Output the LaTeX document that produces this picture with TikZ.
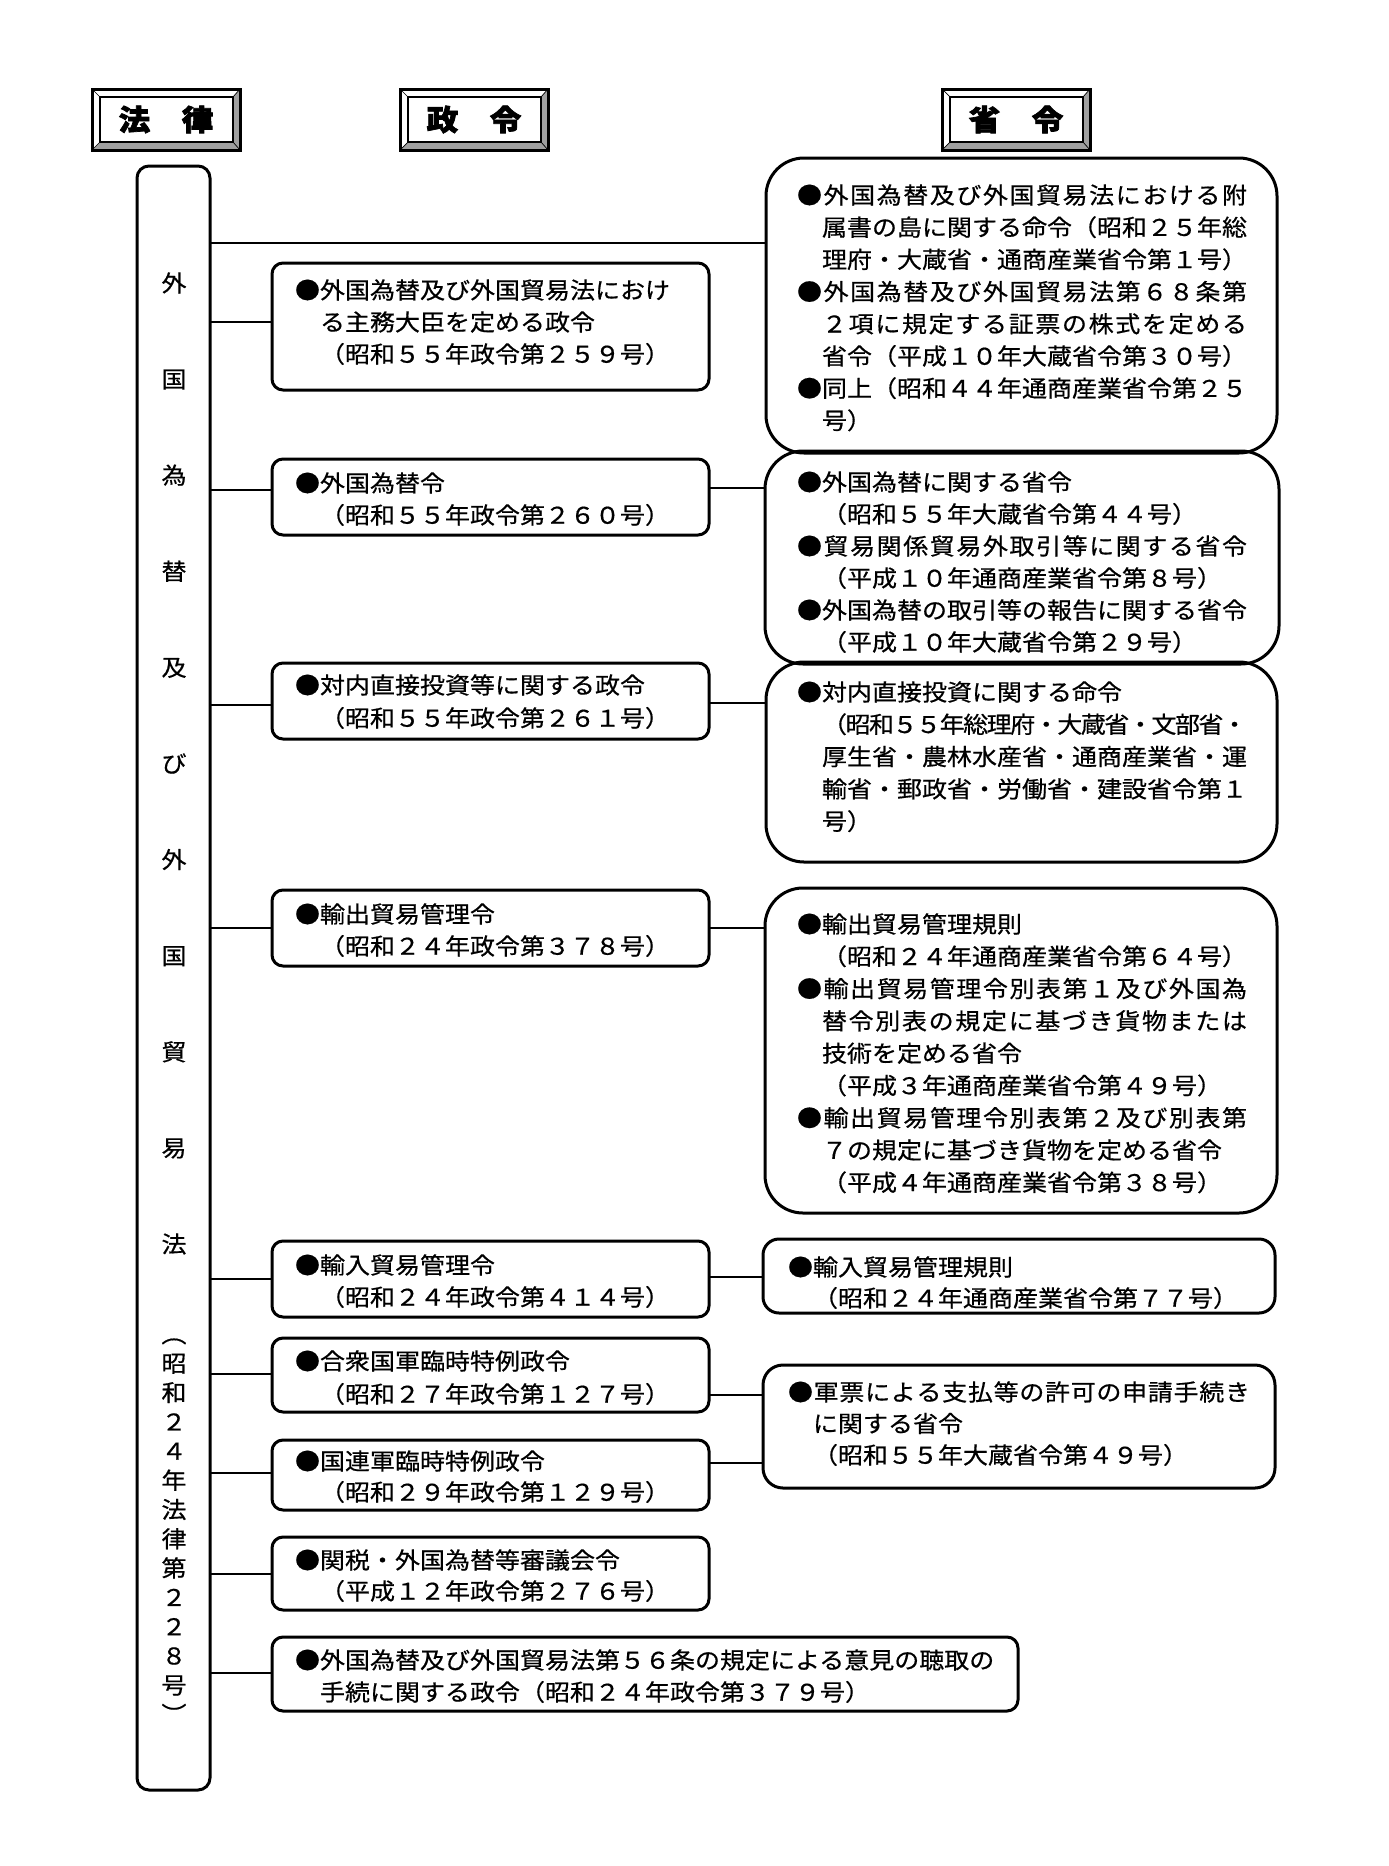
\documentclass[tikz,border=0pt]{standalone}
\usepackage{fontspec}
\usepackage{graphicx}
\setmainfont{Noto Sans CJK JP}[FakeStretch=1.087]
\newfontfamily\jpf{Noto Sans CJK JP}[FakeStretch=1.087, FakeBold=0.6]
\newfontfamily\hdrf{Noto Sans CJK JP}[FakeStretch=1.087, FakeBold=2.5]
\usetikzlibrary{calc}
\newcommand\sprdstop{}
\newcommand\sprd[2]{\leavevmode\hbox to #1{\sprdloop#2\sprdstop}}
\def\sprdloop#1{\ifx#1\sprdstop\unskip\else#1\hskip 0pt plus 1fil minus 1fil\expandafter\sprdloop\fi}
\definecolor{hdrgray}{HTML}{A0A0A0}
\newcommand\hdrbox[4]{%
  \node[hdr, anchor=north west] (#1) at (#2,#3) {#4};
  \fill[hdrgray] (#1.south west) -- (#1.south east) -- (#1.north east) -- ([shift={(-7,8)}]#1.north east) -- ([shift={(-7,-8)}]#1.south east) -- ([shift={(8,-8)}]#1.south west) -- cycle;
  \draw[line width=0.7pt] (#1.north west) -- ++(8,8) (#1.north east) -- ++(-7,8) (#1.south west) -- ++(8,-8) (#1.south east) -- ++(-7,-8);
  \draw[line width=2pt] ([shift={(8,8)}]#1.north west) rectangle ([shift={(-7,-8)}]#1.south east);
  \draw[line width=3pt] (#1.north west) rectangle (#1.south east);
}
\begin{document}
\begin{tikzpicture}[x=1pt,y=-1pt,
  hdr/.style={minimum width=148pt, minimum height=61pt, inner sep=0pt, outer sep=0pt, fill=white, font=\hdrf\fontsize{29}{29}\selectfont\bfseries},
  lawbox/.style={draw, line width=3pt, rounded corners=12pt, inner sep=0pt, outer sep=0pt},
  seibox/.style={draw, line width=3pt, rounded corners=11pt, inner sep=0pt, outer sep=0pt},
  shobox/.style={draw, line width=3pt, rounded corners=38pt, inner sep=0pt, outer sep=0pt},
  shoboxs/.style={draw, line width=3pt, rounded corners=#1, inner sep=0pt, outer sep=0pt},
  txt/.style={anchor=base west, inner sep=0pt, outer sep=0pt, align=left, text width=600pt, font=\jpf\fontsize{23}{#1}\selectfont},
  txt/.default=32.2,
  conn/.style={line width=2.6pt},
]
\useasboundingbox (0,0) rectangle (1389,1866);

% headers
\hdrbox{h1}{92}{89}{法　律}
\hdrbox{h2}{400}{89}{政　令}
\hdrbox{h3}{942}{89}{省　令}

% law box
\node[lawbox, minimum width=73pt, minimum height=1624pt, anchor=north west] (law) at (137,166) {};
\node[inner sep=0pt, anchor=base, align=center, text width=40pt, font=\jpf\fontsize{23}{96.1}\selectfont] (lawt1) at (174,291.7)
  {外\\国\\為\\替\\及\\び\\外\\国\\貿\\易\\法};
\node[inner sep=0pt, anchor=base, align=center, text width=40pt, font=\jpf\fontsize{23}{29.25}\selectfont] (lawt2) at (174,1342.7)
  {︵\\昭\\和\\２\\４\\年\\法\\律\\第\\２\\２\\８\\号\\︶};

% seirei boxes
\node[seibox, minimum width=437pt, minimum height=127pt, anchor=north west] (s1) at (272,263) {};
\node[seibox, minimum width=437pt, minimum height=76pt, anchor=north west] (s2) at (272,459) {};
\node[seibox, minimum width=437pt, minimum height=76pt, anchor=north west] (s3) at (272,663) {};
\node[seibox, minimum width=437pt, minimum height=76pt, anchor=north west] (s4) at (272,890) {};
\node[seibox, minimum width=437pt, minimum height=76pt, anchor=north west] (s5) at (272,1241) {};
\node[seibox, minimum width=437pt, minimum height=74pt, anchor=north west] (s6) at (272,1338) {};
\node[seibox, minimum width=437pt, minimum height=70pt, anchor=north west] (s7) at (272,1440) {};
\node[seibox, minimum width=437pt, minimum height=73pt, anchor=north west] (s8) at (272,1537) {};
\node[seibox, minimum width=746pt, minimum height=74pt, anchor=north west] (s9) at (272,1637) {};

% shorei boxes
\node[shobox, minimum width=511pt, minimum height=295pt, anchor=north west] (A) at (766,158) {};
\node[shobox, minimum width=514pt, minimum height=213pt, anchor=north west] (B) at (765,451) {};
\node[shobox, minimum width=511pt, minimum height=200pt, anchor=north west] (C) at (766,662) {};
\node[shobox, minimum width=512pt, minimum height=325pt, anchor=north west] (D) at (765,888) {};
\node[shoboxs=16pt, minimum width=512pt, minimum height=74pt, anchor=north west] (E) at (763,1239) {};
\node[shoboxs=20pt, minimum width=512pt, minimum height=123pt, anchor=north west] (F) at (763,1365) {};

% connectors
\draw[conn] (law.east |- 0,243) -- (A.west |- 0,243);
\draw[conn] (law.east |- 0,322) -- (s1.west |- 0,322);
\draw[conn] (law.east |- 0,490) -- (s2.west |- 0,490);
\draw[conn] (law.east |- 0,705) -- (s3.west |- 0,705);
\draw[conn] (law.east |- 0,928) -- (s4.west |- 0,928);
\draw[conn] (law.east |- 0,1279) -- (s5.west |- 0,1279);
\draw[conn] (law.east |- 0,1374) -- (s6.west |- 0,1374);
\draw[conn] (law.east |- 0,1473) -- (s7.west |- 0,1473);
\draw[conn] (law.east |- 0,1574) -- (s8.west |- 0,1574);
\draw[conn] (law.east |- 0,1673) -- (s9.west |- 0,1673);
\draw[conn] (s2.east |- 0,488) -- (B.west |- 0,488);
\draw[conn] (s3.east |- 0,703) -- (C.west |- 0,703);
\draw[conn] (s4.east |- 0,928) -- (D.west |- 0,928);
\draw[conn] (s5.east |- 0,1277) -- (E.west |- 0,1277);
\draw[conn] (s6.east |- 0,1395) -- (F.west |- 0,1395);
\draw[conn] (s7.east |- 0,1463) -- (F.west |- 0,1463);

% seirei texts
\node[txt=32] (t1) at (295,298.7) {●外国為替及び外国貿易法におけ\\　る主務大臣を定める政令\\　（昭和５５年政令第２５９号）};
\node[txt=32] (t2) at (295,491.7) {●外国為替令\\　（昭和５５年政令第２６０号）};
\node[txt=33] (t3) at (295,693.7) {●対内直接投資等に関する政令\\　（昭和５５年政令第２６１号）};
\node[txt=32] (t4) at (295,922.7) {●輸出貿易管理令\\　（昭和２４年政令第３７８号）};
\node[txt=32] (t5) at (295,1273.7) {●輸入貿易管理令\\　（昭和２４年政令第４１４号）};
\node[txt=33] (t6) at (295,1369.7) {●合衆国軍臨時特例政令\\　（昭和２７年政令第１２７号）};
\node[txt=31] (t7) at (295,1469.7) {●国連軍臨時特例政令\\　（昭和２９年政令第１２９号）};
\node[txt=31] (t8) at (295,1568.7) {●関税・外国為替等審議会令\\　（平成１２年政令第２７６号）};
\node[txt=32] (t9) at (295,1668.7) {●外国為替及び外国貿易法第５６条の規定による意見の聴取の\\　手続に関する政令（昭和２４年政令第３７９号）};

% shorei texts
\node[txt=32.2] (tA) at (797,203.7) {\sprd{450pt}{●外国為替及び外国貿易法における附}\\
　属書の島に関する命令（昭和２５年総\\
　理府・大蔵省・通商産業省令第１号）\\
\sprd{450pt}{●外国為替及び外国貿易法第６８条第}\\
　\sprd{425pt}{２項に規定する証票の株式を定める}\\
　省令（平成１０年大蔵省令第３０号）\\
●同上（昭和４４年通商産業省令第２５\\
　号）};
\node[txt=32] (tB) at (797,490.7) {●外国為替に関する省令\\
　（昭和５５年大蔵省令第４４号）\\
\sprd{450pt}{●貿易関係貿易外取引等に関する省令}\\
　（平成１０年通商産業省令第８号）\\
●外国為替の取引等の報告に関する省令\\
　（平成１０年大蔵省令第２９号）};
\node[txt=32.3] (tC) at (797,700.7) {●対内直接投資に関する命令\\
　\sprd{425pt}{（昭和５５年総理府・大蔵省・文部省・}\\
　厚生省・農林水産省・通商産業省・運\\
　輸省・郵政省・労働省・建設省令第１\\
　号）};
\node[txt=32.3] (tD) at (797,932.7) {●輸出貿易管理規則\\
　（昭和２４年通商産業省令第６４号）\\
\sprd{450pt}{●輸出貿易管理令別表第１及び外国為}\\
　\sprd{425pt}{替令別表の規定に基づき貨物または}\\
　技術を定める省令\\
　（平成３年通商産業省令第４９号）\\
\sprd{450pt}{●輸出貿易管理令別表第２及び別表第}\\
　７の規定に基づき貨物を定める省令\\
　（平成４年通商産業省令第３８号）};
\node[txt=31] (tE) at (788,1275.7) {●輸入貿易管理規則\\
　（昭和２４年通商産業省令第７７号）};
\node[txt=31.5] (tF) at (788,1400.7) {\sprd{462pt}{●軍票による支払等の許可の申請手続き}\\
　に関する省令\\
　（昭和５５年大蔵省令第４９号）};
\end{tikzpicture}
\end{document}
